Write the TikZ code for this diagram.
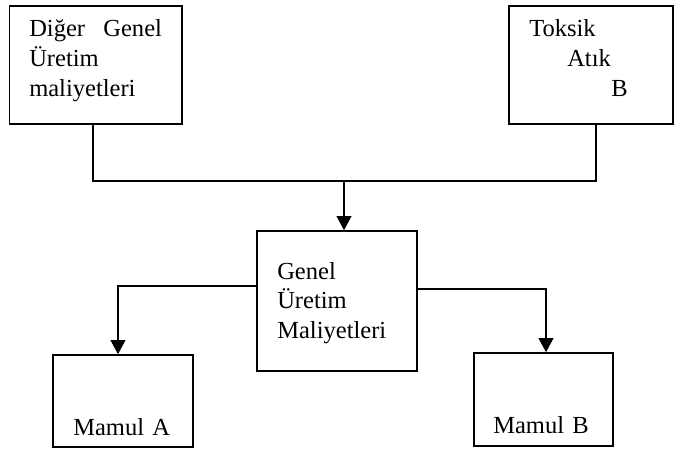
\documentclass[tikz,border=0pt]{standalone}
\usepackage{fontspec}
\setmainfont{Liberation Serif}
\usetikzlibrary{arrows.meta,calc}

\tikzset{
  box/.style={draw, line width=1.2pt, inner sep=0pt},
  label/.style={anchor=base west, inner sep=0pt, text width=200pt, align=left,
    font=\fontsize{18.4pt}{22.2pt}\selectfont},
  link/.style={line width=1.2pt},
  flow/.style={link, -{Triangle[width=11pt,length=10.5pt]}}
}

\begin{document}
\begin{tikzpicture}[x=0.75pt, y=-0.75pt]
  % page
  \fill[white] (0,0) rectangle (674,449);
  \useasboundingbox (0,0) rectangle (674,449);

  % boxes
  \node[box, minimum width=172.5*0.75pt, minimum height=118*0.75pt] (diger) at (95.75,65) {};
  \node[box, minimum width=164*0.75pt, minimum height=118*0.75pt] (toksik) at (591,65) {};
  \node[box, minimum width=160*0.75pt, minimum height=140*0.75pt] (genel) at (337,301) {};
  \node[box, minimum width=140*0.75pt, minimum height=92*0.75pt] (mamulA) at (123,401) {};
  \node[box, minimum width=139*0.75pt, minimum height=93*0.75pt] (mamulB) at (543.5,399.5) {};

  % box texts
  \node[label] (digerText) at (29,37) {Diğer\hspace{13.7pt}Genel\\Üretim\\maliyetleri};
  \node[label] (toksikText) at (529,37) {Toksik\\\hspace*{28.5pt}Atık\\\hspace*{61.5pt}B};
  \node[label] (genelText) at (277,279) {Genel\\Üretim\\Maliyetleri};
  \node[label] (mamulAText) at (73,435) {Mamul A};
  \node[label] (mamulBText) at (493,433) {Mamul B};

  % collecting line
  \coordinate (join) at (344,181);
  \draw[link] ($(diger.south)+(-2.75,0)$) |- (join) -| ($(toksik.south)+(5,0)$);
  \draw[flow] (join) -- (join |- genel.north);

  % distribution lines
  \draw[flow] ($(genel.west)+(0,-15)$) -| ($(mamulA.north)+(-5,0)$);
  \draw[flow] ($(genel.east)+(0,-12)$) -| ($(mamulB.north)+(2.5,0)$);
\end{tikzpicture}
\end{document}
